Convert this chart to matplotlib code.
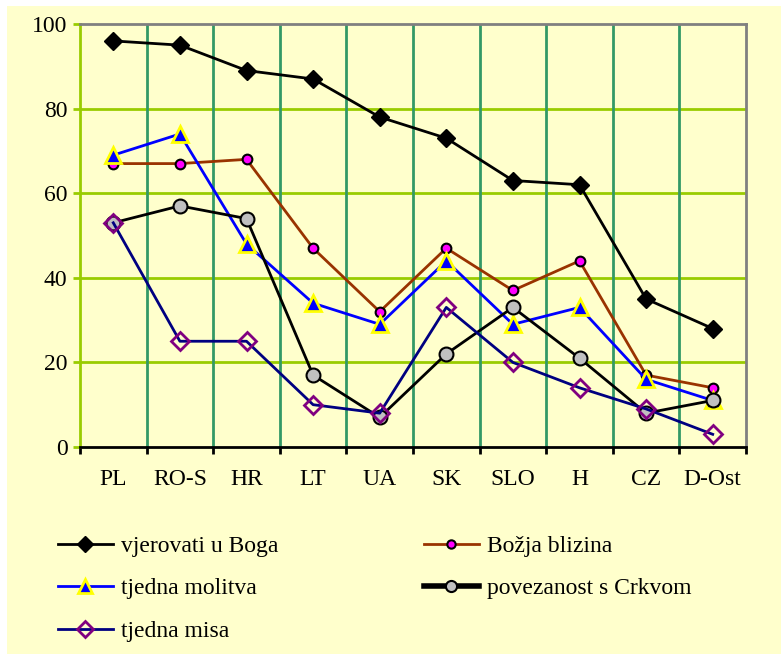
import matplotlib
matplotlib.use("Agg")
import matplotlib.pyplot as plt
from matplotlib.lines import Line2D
from matplotlib.patches import Rectangle

countries = ["PL", "RO-S", "HR", "LT", "UA", "SK", "SLO", "H", "CZ", "D-Ost"]
vjerovati = [96, 95, 89, 87, 78, 73, 63, 62, 35, 28]
blizina = [67, 67, 68, 47, 32, 47, 37, 44, 17, 14]
molitva = [69, 74, 48, 34, 29, 44, 29, 33, 16, 11]
povezanost = [53, 57, 54, 17, 7, 22, 33, 21, 8, 11]
misa = [53, 25, 25, 10, 8, 33, 20, 14, 9, 3]
y_ticks = [0, 20, 40, 60, 80, 100]

BG = "#FFFFCC"
GRID_H = "#99CC00"
GRID_V = "#339966"
FRAME = "#808080"

plt.rcParams["font.family"] = ["Liberation Serif", "DejaVu Serif"]

fig = plt.figure(figsize=(7.81, 6.54), dpi=100)
fig.patch.set_facecolor("white")
W, H = 781, 654
fig.patches.append(Rectangle((7 / W, 0), 1 - 7 / W, 1 - 6 / H,
                             transform=fig.transFigure, facecolor=BG,
                             edgecolor="none", zorder=-5))

ax = fig.add_axes([80 / W, 1 - 447 / H, (746 - 80) / W, (447 - 24) / H])
ax.set_facecolor(BG)
n = len(countries)
x = range(n)
ax.set_xlim(-0.5, n - 0.5)
ax.set_ylim(0, 100)

# gridlines
for v in y_ticks[1:-1]:
    ax.axhline(v, color=GRID_H, lw=2, zorder=1)
for b in range(1, n):
    ax.axvline(b - 0.5, color=GRID_V, lw=2, zorder=1)

ax.spines["top"].set_color(FRAME)
ax.spines["right"].set_color(FRAME)
ax.spines["top"].set_linewidth(2)
ax.spines["right"].set_linewidth(2)
ax.spines["left"].set_color(GRID_H)
ax.spines["left"].set_linewidth(2)
ax.spines["bottom"].set_color("black")
ax.spines["bottom"].set_linewidth(2)

ax.set_yticks(y_ticks)
ax.set_yticklabels([str(v) for v in y_ticks], fontsize=17)
ax.tick_params(axis="y", direction="out", length=5, width=2, color=GRID_H, pad=4)
ax.set_xticks([i - 0.5 for i in range(n + 1)])
ax.set_xticklabels([])
ax.tick_params(axis="x", direction="out", length=5, width=2, color="black")
ax.set_xticks(list(x), minor=True)
ax.set_xticklabels(countries, minor=True, fontsize=17)
ax.tick_params(axis="x", which="minor", length=0, pad=16)

l1, = ax.plot(x, vjerovati, color="black", lw=2, marker="D", ms=9,
              mfc="black", mec="black", zorder=3, clip_on=False)
l2, = ax.plot(x, blizina, color="#993300", lw=2, marker="o", ms=7,
              mfc="#FF00FF", mec="black", mew=1.5, zorder=4, clip_on=False)
l3, = ax.plot(x, molitva, color="#0000FF", lw=2, marker="^", ms=11,
              mfc="#0000FF", mec="#FFFF00", mew=2, zorder=5, clip_on=False)
l4, = ax.plot(x, povezanost, color="black", lw=2, marker="o", ms=10,
              mfc="#C0C0C0", mec="black", mew=1.5, zorder=6, clip_on=False)
l5, = ax.plot(x, misa, color="#000080", lw=2, marker="D", ms=9,
              mfc="none", mec="#800080", mew=2, zorder=7, clip_on=False)

h1 = Line2D([], [], color="black", lw=2, marker="D", ms=8,
            mfc="black", mec="black")
h2 = Line2D([], [], color="#993300", lw=2, marker="o", ms=6,
            mfc="#FF00FF", mec="black", mew=1.5)
h3 = Line2D([], [], color="#0000FF", lw=2, marker="^", ms=10,
            mfc="#0000FF", mec="#FFFF00", mew=2)
h4 = Line2D([], [], color="black", lw=4, marker="o", ms=8,
            mfc="#C0C0C0", mec="black", mew=1.5)
h5 = Line2D([], [], color="#000080", lw=2, marker="D", ms=8,
            mfc="none", mec="#800080", mew=2)

handles = [h1, h3, h5, h2, h4]
labels = ["vjerovati u Boga", "tjedna molitva", "tjedna misa",
          "Božja blizina", "povezanost s Crkvom"]
fig.legend(handles, labels, loc="upper left",
           bbox_to_anchor=(37 / W, 1 - 514 / H), ncol=2, frameon=False,
           fontsize=17, handlelength=2.3, handletextpad=0.34,
           columnspacing=6.2, labelspacing=0.89)

fig.savefig("out.png", dpi=100)
